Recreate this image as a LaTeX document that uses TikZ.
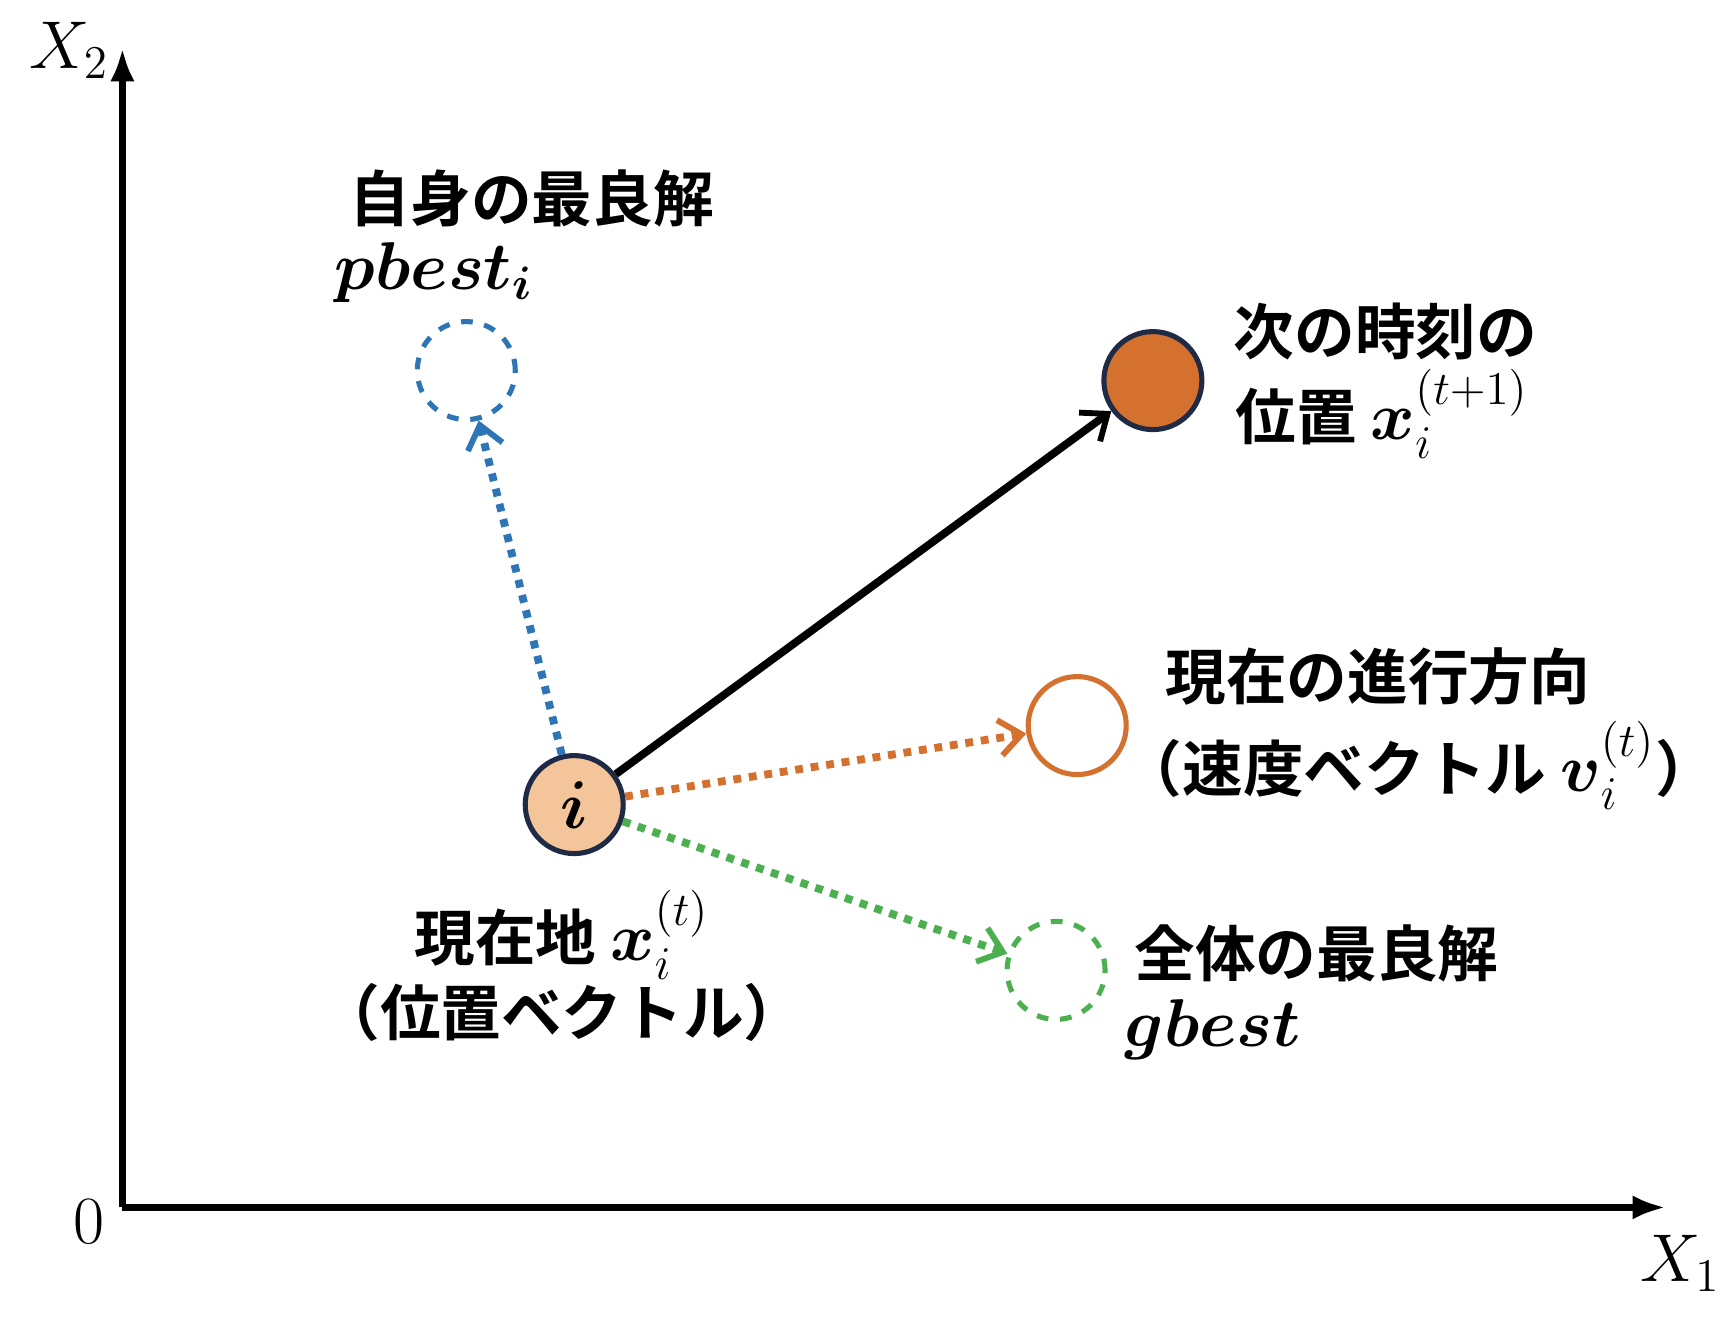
\documentclass[tikz,border=0pt]{standalone}
\usepackage{amsmath}
\usepackage{fontspec}
\newfontfamily\cjk{Noto Sans CJK JP}[BoldFont={Noto Sans CJK JP Bold}]
\usetikzlibrary{arrows.meta}
\definecolor{navy}{HTML}{1F2A44}
\definecolor{peach}{HTML}{F4C49A}
\definecolor{rust}{HTML}{D4712E}
\definecolor{bblue}{HTML}{2E75B6}
\definecolor{ggreen}{HTML}{4CAF50}
\newcommand{\jf}{\cjk\bfseries\fontsize{15.5}{19}\selectfont}
\newcommand{\mf}{\fontsize{17}{19}\selectfont}
\tikzset{
 lbl/.style={font=\jf, align=center, inner sep=0},
 ptc/.style={circle, minimum size=0.88cm, inner sep=0, line width=1.3pt},
 dotar/.style={line width=2pt, dotted, -{Straight Barb[length=2mm,width=3.2mm,line width=1.5pt]}},
}
\begin{document}
\begin{tikzpicture}[x=0.01cm,y=-0.01cm]
\useasboundingbox (0,0) rectangle (1560,1190);
\coordinate (O) at (110,1085);
\coordinate (xe) at (1497,1085);
\coordinate (ye) at (110,43);
\draw[line width=1.8pt,-{Latex[length=3mm,width=2.2mm]}] (O) -- (xe);
\draw[line width=1.8pt,-{Latex[length=3mm,width=2.2mm]}] (O) -- (ye);
\node[lbl] (x2) at (62,45) {\mf$X_2$};
\node[lbl] (x1) at (1510,1135) {\mf$X_1$};
\node[lbl] (zero) at (80,1098) {\mf$0$};

\node[ptc, draw=navy, fill=peach] (i) at (516,723) {\mf$\boldsymbol{i}$};
\node[ptc, draw=bblue, dashed] (pb) at (419,333) {};
\node[ptc, draw=navy, fill=rust] (nx) at (1036,342) {};
\node[ptc, draw=rust] (vel) at (968,652) {};
\node[ptc, draw=ggreen, dashed] (gb) at (949,872) {};

\draw[line width=2pt,-{Straight Barb[length=2mm,width=3.2mm,line width=1.5pt]}] (i) -- (nx);
\draw[dotar, bblue] (i) -- (pb);
\draw[dotar, rust] (i) -- (vel);
\draw[dotar, ggreen] (i) -- (gb);

\node[lbl] (t1) at (478,178) {自身の最良解};
\node[lbl] (t2) at (390,245) {\mf$\boldsymbol{pbest_i}$};
\node[lbl] (t3) at (1245,298) {次の時刻の};
\node[lbl] (t4) at (1242,372) {位置 \mf$\boldsymbol{x}_i^{(t+1)}$};
\node[lbl] (t5) at (1238,608) {現在の進行方向};
\node[lbl] (t6) at (1275,688) {（速度ベクトル \mf$\boldsymbol{v}_i^{(t)}$\jf）};
\node[lbl] (t7) at (505,840) {現在地 \mf$\boldsymbol{x}_i^{(t)}$};
\node[lbl] (t8) at (505,910) {（位置ベクトル）};
\node[lbl] (t9) at (1183,857) {全体の最良解};
\node[lbl] (t10) at (1090,925) {\mf$\boldsymbol{gbest}$};
\end{tikzpicture}
\end{document}
